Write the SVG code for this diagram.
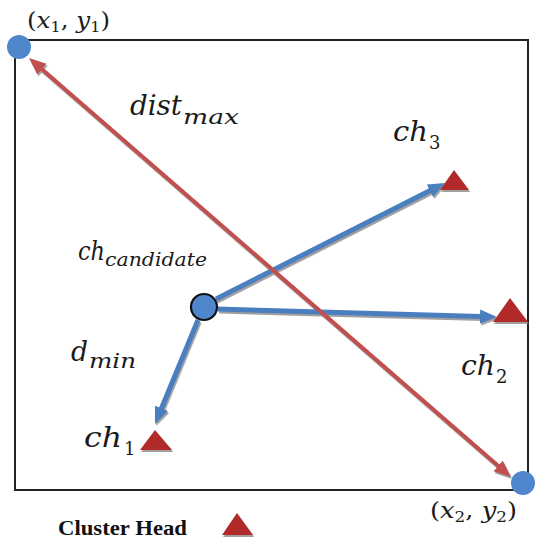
<svg xmlns="http://www.w3.org/2000/svg" width="536" height="543" viewBox="0 0 536 543">
  <style>
    .m { font-family: "DejaVu Serif", "Liberation Serif", serif; font-style: italic; fill: #1a1a1a; }
    .u { font-style: normal; }
    .blue { stroke: #4a7ebf; stroke-width: 5; fill: none; }
    .red { stroke: #c0504d; stroke-width: 4; fill: none; }
    .ch { fill: #b02a2a; }
    .pt { fill: #4f86cc; }
    .legend { font-family: "Liberation Serif", "Times New Roman", serif; font-weight: bold; fill: #111; }
  </style>
  <defs>
    <filter id="sh" x="-10%" y="-10%" width="130%" height="130%">
      <feDropShadow dx="1.2" dy="2" stdDeviation="0.6" flood-color="#888" flood-opacity="0.8"/>
    </filter>
    <marker id="ab" markerUnits="userSpaceOnUse" markerWidth="18" markerHeight="16" refX="1" refY="7" orient="auto">
      <path d="M0,0 L17,7 L0,14 z" fill="#4a7ebf"/>
    </marker>
    <marker id="ar" markerUnits="userSpaceOnUse" markerWidth="18" markerHeight="16" refX="1" refY="7" orient="auto-start-reverse">
      <path d="M0,0 L17,7 L0,14 z" fill="#c0504d"/>
    </marker>
  </defs>

  <rect id="frame" x="15" y="40" width="513" height="450" fill="none" stroke="#222" stroke-width="2"/>

  <g id="connectors" filter="url(#sh)">
    <line class="blue" x1="216" y1="299" x2="430.7" y2="190.2" marker-end="url(#ab)"/>
    <line class="blue" x1="218" y1="309" x2="481" y2="316.5" marker-end="url(#ab)"/>
    <line class="blue" x1="198" y1="320" x2="161.1" y2="409.2" marker-end="url(#ab)"/>
    <line class="red" x1="41.1" y1="68.5" x2="498.9" y2="466.5" marker-start="url(#ar)" marker-end="url(#ar)"/>
  </g>

  <g id="p1">
    <circle class="pt" cx="19" cy="47" r="12"/>
    <text class="m" x="27" y="28" font-size="23" textLength="83" lengthAdjust="spacingAndGlyphs"><tspan class="u">(</tspan>x<tspan font-size="15" dy="4" class="u">1</tspan><tspan class="u" dy="-4">, </tspan>y<tspan font-size="15" dy="4" class="u">1</tspan><tspan class="u" dy="-4">)</tspan></text>
  </g>

  <g id="p2">
    <circle class="pt" cx="523" cy="483" r="12"/>
    <text class="m" x="430" y="518" font-size="23" textLength="87" lengthAdjust="spacingAndGlyphs"><tspan class="u">(</tspan>x<tspan font-size="15" dy="4" class="u">2</tspan><tspan class="u" dy="-4">, </tspan>y<tspan font-size="15" dy="4" class="u">2</tspan><tspan class="u" dy="-4">)</tspan></text>
  </g>

  <g id="distmax">
    <text class="m" x="130" y="115" font-size="28" textLength="52" lengthAdjust="spacingAndGlyphs">dist</text>
    <text class="m" x="183" y="124" font-size="21" textLength="56" lengthAdjust="spacingAndGlyphs">max</text>
  </g>

  <g id="candidate">
    <circle cx="204" cy="307" r="13" fill="#4f86cc" stroke="#111" stroke-width="2.2"/>
    <text class="m" x="78" y="260" font-size="26" textLength="27" lengthAdjust="spacingAndGlyphs">ch</text>
    <text class="m" x="105" y="266" font-size="19" textLength="102" lengthAdjust="spacingAndGlyphs">candidate</text>
  </g>

  <g id="dmin">
    <text class="m" x="71" y="361" font-size="27" textLength="17" lengthAdjust="spacingAndGlyphs">d</text>
    <text class="m" x="89" y="368" font-size="20" textLength="47" lengthAdjust="spacingAndGlyphs">min</text>
  </g>

  <g id="ch1">
    <polygon class="ch" points="155,430 140,450 172,450" filter="url(#sh)"/>
    <text class="m" x="84" y="447" font-size="27" textLength="38" lengthAdjust="spacingAndGlyphs">ch</text>
    <text class="m u" x="124" y="455" font-size="18">1</text>
  </g>

  <g id="ch2">
    <polygon class="ch" points="510,298 493,322 528,322" filter="url(#sh)"/>
    <text class="m" x="461" y="375" font-size="27" textLength="34" lengthAdjust="spacingAndGlyphs">ch</text>
    <text class="m u" x="496" y="383" font-size="18">2</text>
  </g>

  <g id="ch3">
    <polygon class="ch" points="454,170 440,190 469,190" filter="url(#sh)"/>
    <text class="m" x="393" y="141" font-size="27" textLength="35" lengthAdjust="spacingAndGlyphs">ch</text>
    <text class="m u" x="429" y="149" font-size="18">3</text>
  </g>

  <g id="legend">
    <text class="legend" x="58" y="535" font-size="21" textLength="129" lengthAdjust="spacingAndGlyphs">Cluster Head</text>
    <polygon class="ch" points="237,513 222,535 253,535" filter="url(#sh)"/>
  </g>
</svg>
